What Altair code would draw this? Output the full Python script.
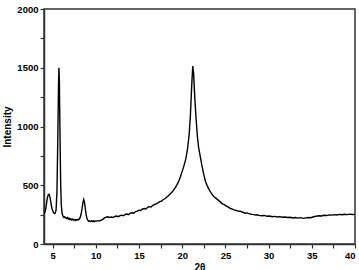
import altair as alt
import pandas as pd

two_theta = [4.0, 4.1, 4.2, 4.3, 4.4, 4.5, 4.6, 4.7, 4.8, 4.9, 5.0, 5.1, 5.2, 5.3, 5.4, 5.5, 5.6, 5.68, 5.73, 5.78, 5.85, 5.92,
             6.0, 6.1, 6.2, 6.3, 6.4, 6.5, 6.6, 6.7, 6.8, 6.9, 7.0, 7.1, 7.2, 7.3, 7.4, 7.5, 7.6, 7.7, 7.8, 7.9,
             8.0, 8.1, 8.2, 8.3, 8.4, 8.5, 8.6, 8.7, 8.8, 8.9, 9.0, 9.1, 9.2, 9.3, 9.4, 9.5, 9.6, 9.7, 9.8, 9.9,
             10.0, 10.2, 10.4, 10.6, 10.8, 11.0, 11.2, 11.4, 11.6, 11.8, 12.0, 12.2, 12.4, 12.6, 12.8, 13.0, 13.2,
             13.4, 13.6, 13.8, 14.0, 14.2, 14.4, 14.6, 14.8, 15.0, 15.2, 15.4, 15.6, 15.8, 16.0, 16.2, 16.4, 16.6,
             16.8, 17.0, 17.2, 17.4, 17.6, 17.8, 18.0, 18.2, 18.4, 18.6, 18.8, 19.0, 19.2, 19.4, 19.5, 19.6, 19.8,
             20.0, 20.2, 20.4, 20.6, 20.8, 20.95, 21.1, 21.22, 21.32, 21.45, 21.6, 21.75, 21.9, 22.1, 22.3, 22.5,
             22.7, 22.9, 23.1, 23.3, 23.5, 23.7, 23.9, 24.1, 24.3, 24.5, 24.7, 24.9, 25.1, 25.3, 25.5, 25.7, 25.9,
             26.1, 26.3, 26.5, 26.7, 26.9, 27.1, 27.3, 27.5, 27.7, 27.9, 28.1, 28.3, 28.5, 28.7, 28.9, 29.2, 29.5,
             29.8, 30.1, 30.4, 30.7, 31.0, 31.3, 31.6, 31.9, 32.2, 32.5, 32.8, 33.1, 33.4, 33.7, 34.0, 34.3, 34.6,
             34.9, 35.2, 35.5, 35.8, 36.1, 36.4, 36.7, 37.0, 37.3, 37.6, 37.9, 38.2, 38.5, 38.8, 39.1, 39.4, 39.7, 40.0]
intensity = [255, 270, 300, 350, 395, 420, 422, 395, 350, 310, 285, 268, 260, 262, 290, 450, 900, 1350, 1500, 1380, 950, 550,
             330, 260, 235, 225, 232, 222, 218, 226, 212, 220, 208, 215, 205, 212, 203, 208, 200, 207, 202, 210,
             206, 215, 228, 255, 300, 350, 378, 350, 290, 240, 212, 200, 193, 196, 190, 197, 192, 198, 190, 196,
             193, 199, 195, 203, 210, 222, 228, 232, 226, 230, 225, 234, 238, 233, 242, 245, 240,
             252, 255, 250, 263, 266, 262, 276, 280, 288, 285, 298, 302, 298, 312, 318, 315, 330,
             336, 342, 350, 360, 365, 378, 385, 398, 410, 425, 440, 458, 480, 505, 520, 535, 575,
             620, 665, 720, 800, 930, 1100, 1350, 1515, 1450, 1250, 1070, 920, 820, 740, 660, 590,
             530, 495, 465, 440, 418, 400, 390, 378, 365, 352, 340, 335, 322, 316, 305, 300, 292,
             288, 284, 278, 281, 272, 268, 262, 265, 258, 255, 252, 250, 246, 249, 244, 240, 243,
             236, 238, 232, 235, 230, 233, 228, 230, 226, 228, 222, 225, 220, 224, 218, 222, 226,
             224, 232, 236, 240, 238, 245, 242, 248, 246, 250, 247, 252, 249, 253, 250, 254, 251, 252]

x_ticks = [5, 7.5, 10, 12.5, 15, 17.5, 20, 22.5, 25, 27.5, 30, 32.5, 35, 37.5, 40]
y_ticks = [0, 250, 500, 750, 1000, 1250, 1500, 1750, 2000]

df = pd.DataFrame({"x": two_theta, "y": intensity})

font = "Liberation Sans"

chart = alt.Chart(df).mark_line(color="black", strokeWidth=1.4, clip=True).encode(
    x=alt.X("x:Q", scale=alt.Scale(domain=[4, 40], nice=False, zero=False),
            axis=alt.Axis(values=x_ticks, title="2θ", grid=False, format="d",
                          labelExpr="datum.value % 5 == 0 ? datum.label : ''",
                          tickSize=4, labelPadding=2, titlePadding=3)),
    y=alt.Y("y:Q", scale=alt.Scale(domain=[0, 2000], nice=False),
            axis=alt.Axis(values=y_ticks, title="Intensity", grid=False, format="d",
                          labelExpr="datum.value % 500 == 0 ? datum.label : ''",
                          tickSize=4, labelPadding=2, titlePadding=4)),
).properties(
    width=311, height=235,
    padding={"left": 44, "top": 9, "right": 4, "bottom": 26},
    autosize=alt.AutoSizeParams(type="none"),
).configure_axis(
    labelFont=font, titleFont=font, labelFontWeight="bold", titleFontWeight="bold",
    labelFontSize=9.5, titleFontSize=10, labelColor="black", titleColor="black",
    domainColor="#333333", tickColor="#333333", domainWidth=1.5, tickWidth=1.2,
).configure_view(stroke="#333333", strokeWidth=1.5)

chart.save("out.html", embed_options={"renderer": "svg", "actions": False})
